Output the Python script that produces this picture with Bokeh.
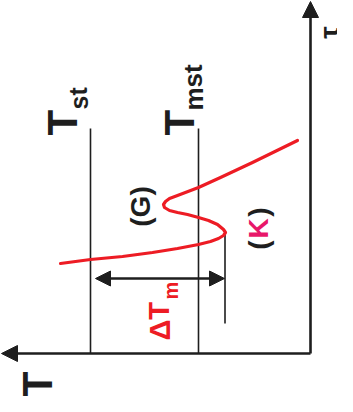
from bokeh.plotting import figure
from bokeh.models import Range1d, Arrow, NormalHead
from bokeh.core.properties import value
from bokeh.embed import file_html
from bokeh.resources import INLINE

# ---- data (T grows to the left, tau grows upward) ----
curve_T = [250, 220, 188, 158, 133, 112, 100, 92, 87, 85, 87, 93, 102, 112, 123,
           133, 141, 146, 147, 145, 141, 133, 112, 90, 58, 13]
curve_tau = [90, 94, 97, 101, 105, 109, 112, 115, 118, 121, 124, 129, 133, 136, 139,
             141, 143, 146, 149, 152, 155, 158, 166, 176, 191, 213]

T_st = 220
T_mst = 112
T_K = 85.5
tau_lines_top = 225
tau_K_top = 121
tau_K_bottom = 30
tau_dT = 75
dT_left = 215
dT_right = 86
T_axis_end = 309
tau_axis_end = 352

FONT = value("Liberation Sans")
BLACK = "#1e1e1e"
RED = "#ed1c24"
PINK = "#e8186a"
ANG = 1.5708

p = figure(width=337, height=396, output_backend="svg", toolbar_location=None,
           x_range=Range1d(310, -27), y_range=Range1d(-43, 353),
           min_border=0, outline_line_color=None)
p.axis.visible = False
p.xaxis.visible = False
p.yaxis.visible = False
p.grid.visible = False

# vertical guide lines
p.segment(x0=[T_st, T_mst], y0=[0, 0], x1=[T_st, T_mst], y1=[tau_lines_top, tau_lines_top],
          line_color=BLACK, line_width=1.6)
p.segment(x0=[T_K], y0=[tau_K_bottom], x1=[T_K], y1=[tau_K_top],
          line_color=BLACK, line_width=1.6)

# curve
p.line(curve_T, curve_tau, line_color=RED, line_width=3.2, line_join="round", line_cap="round")

# axes with arrows
p.add_layout(Arrow(end=NormalHead(size=16, fill_color=BLACK, line_color=BLACK),
                   x_start=0, y_start=0, x_end=T_axis_end, y_end=0,
                   line_color=BLACK, line_width=2.6))
p.add_layout(Arrow(end=NormalHead(size=16, fill_color=BLACK, line_color=BLACK),
                   x_start=0, y_start=0, x_end=0, y_end=tau_axis_end,
                   line_color=BLACK, line_width=2.6))
# delta T arrow
p.add_layout(Arrow(start=NormalHead(size=15, fill_color=BLACK, line_color=BLACK),
                   end=NormalHead(size=15, fill_color=BLACK, line_color=BLACK),
                   x_start=dT_left, y_start=tau_dT, x_end=dT_right, y_end=tau_dT,
                   line_color=BLACK, line_width=2.6))

def txt(x, y, s, size, color=BLACK, align="left"):
    p.text(x=[x], y=[y], text=[s], angle=ANG, text_font=FONT, text_font_style="bold",
           text_font_size=f"{size}px", text_color=color, text_align=align,
           text_baseline="middle")

# axis labels
txt(273.5, -31, "T", 42, align="center")
txt(-19, 321, "τ", 28, align="center")

# T_st, T_mst
txt(248.5, 218, "T", 42)
txt(232, 244, "st", 25)
txt(131.5, 218, "T", 42)
txt(117, 243, "mst", 26)

# (G), (K)
txt(170, 147, "(G)", 28, align="center")
txt(52, 108.5, "(", 28, align="center")
txt(52, 125, "K", 28, color=PINK, align="center")
txt(52, 141.5, ")", 28, align="center")

# delta T_m
txt(151, 13, "ΔT", 29, color=RED)
txt(140, 54, "m", 20, color=RED)

open("out.html", "w").write(file_html(p, INLINE))
